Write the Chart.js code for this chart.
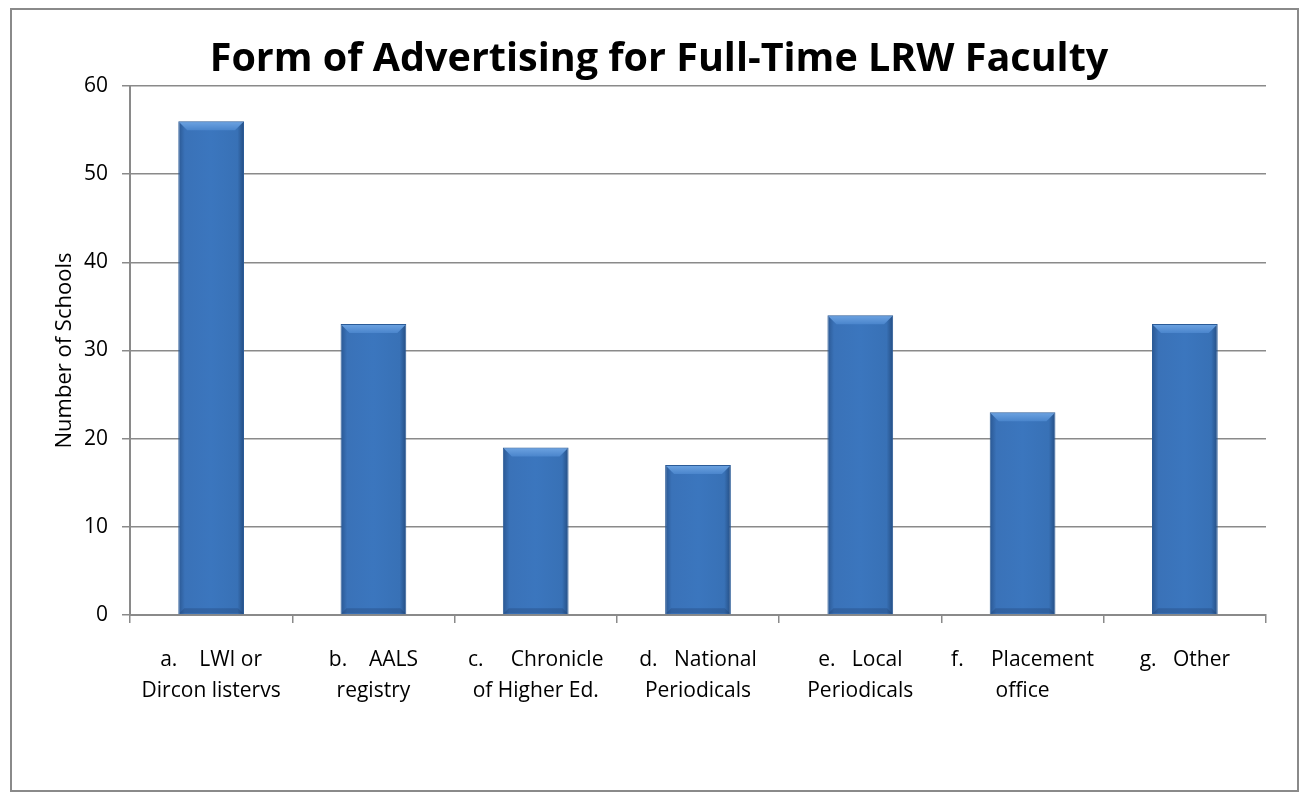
<!DOCTYPE html>
<html>
<head>
<meta charset="utf-8">
<script src="https://cdn.jsdelivr.net/npm/chart.js@4"></script>
<style>
  html, body { margin: 0; padding: 0; background: #fff; }
  #frame {
    position: absolute; left: 10px; top: 8px;
    width: 1285px; height: 780px;
    border: 2px solid #8a8a8a;
  }
  #mycanvas { display: block; }
</style>
</head>
<body>
<div id="frame"><canvas id="mycanvas" width="1285" height="780"></canvas></div>
<script>
var chartTitle = "Form of Advertising for Full-Time LRW Faculty";
var yAxisTitle = "Number of Schools";
var categories = [
  ["a.    LWI or", "Dircon listervs"],
  ["b.    AALS", "registry"],
  ["c.     Chronicle", "of Higher Ed."],
  ["d.   National", "Periodicals"],
  ["e.   Local", "Periodicals"],
  ["f.     Placement", "office"],
  ["g.   Other", ""]
];
var schools = [56, 33, 19, 17, 34, 23, 33];
var yMin = 0, yMax = 60, yStep = 10;

var fontFamily = "'Open Sans', sans-serif";
var barPct = 0.405;

// horizontal shading across each bar, positioned from the x scale
function barFill(context) {
  var chart = context.chart;
  var xs = chart.scales.x;
  if (!xs || !chart.chartArea) return "#3a72b8";
  var cx = xs.getPixelForValue(context.dataIndex);
  var half = xs.width / categories.length * barPct / 2;
  var g = chart.ctx.createLinearGradient(cx - half, 0, cx + half, 0);
  g.addColorStop(0, "#2a5792");
  g.addColorStop(0.1, "#3a72b8");
  g.addColorStop(0.5, "#3b76be");
  g.addColorStop(0.9, "#3871b6");
  g.addColorStop(1, "#244d82");
  return g;
}

// light bevel at the top of each bar, darker one at the foot
var bevelPlugin = {
  id: "bevel",
  afterDatasetsDraw: function(chart) {
    var c = chart.ctx;
    chart.getDatasetMeta(0).data.forEach(function(bar) {
      var p = bar.getProps(["x", "y", "width", "base"], true);
      var l = p.x - p.width / 2, r = p.x + p.width / 2, t = p.y, b = p.base, d = 9;
      c.save();
      var g = c.createLinearGradient(0, t, 0, t + d);
      g.addColorStop(0, "#6ea4e2");
      g.addColorStop(1, "#4a85cc");
      c.fillStyle = g;
      c.beginPath();
      c.moveTo(l + 1, t + 1);
      c.lineTo(r - 1, t + 1);
      c.lineTo(r - d, t + d);
      c.lineTo(l + d, t + d);
      c.closePath();
      c.fill();
      c.fillStyle = "rgba(30, 60, 105, 0.3)";
      c.beginPath();
      c.moveTo(l + 1, b - 1);
      c.lineTo(r - 1, b - 1);
      c.lineTo(r - 6, b - 6);
      c.lineTo(l + 6, b - 6);
      c.closePath();
      c.fill();
      c.restore();
    });
  }
};

var ctx = document.getElementById("mycanvas");

var chartdata = {
  labels: categories,
  datasets: [
    {
      label: yAxisTitle,
      data: schools,
      backgroundColor: barFill,
      borderColor: "#2b5b97",
      borderWidth: 1,
      barPercentage: barPct,
      categoryPercentage: 1.0
    }
  ]
};

var BarGraph = new Chart(ctx, {
  type: "bar",
  data: chartdata,
  plugins: [bevelPlugin],
  options: {
    responsive: false,
    animation: false,
    layout: { padding: { left: 40, right: 31, top: 0, bottom: 0 } },
    plugins: {
      legend: { display: false },
      tooltip: { enabled: false },
      title: {
        display: true,
        text: chartTitle,
        color: "#000",
        font: { family: fontFamily, size: 39.5, weight: "bold" },
        padding: { top: 26, bottom: 2.6 }
      }
    },
    scales: {
      x: {
        grid: {
          display: true,
          drawOnChartArea: false,
          drawTicks: true,
          tickLength: 8,
          color: "#8a8a8a",
          lineWidth: 1.5
        },
        border: { color: "#8a8a8a", width: 2 },
        ticks: {
          color: "#000",
          font: { family: fontFamily, size: 21, lineHeight: 1.5 },
          padding: 21,
          maxRotation: 0,
          autoSkip: false
        },
        afterFit: function(scale) { scale.height = 175; }
      },
      y: {
        min: yMin,
        max: yMax,
        ticks: {
          stepSize: yStep,
          color: "#000",
          font: { family: fontFamily, size: 21 },
          padding: 14
        },
        grid: {
          color: "#8a8a8a",
          lineWidth: 1.5,
          tickLength: 8
        },
        border: { color: "#8a8a8a", width: 2 },
        title: {
          display: true,
          text: yAxisTitle,
          color: "#000",
          font: { family: fontFamily, size: 22 },
          padding: { top: 0, bottom: 0 }
        },
        afterFit: function(scale) { scale.width = 78; }
      }
    }
  }
});
</script>
</body>
</html>
